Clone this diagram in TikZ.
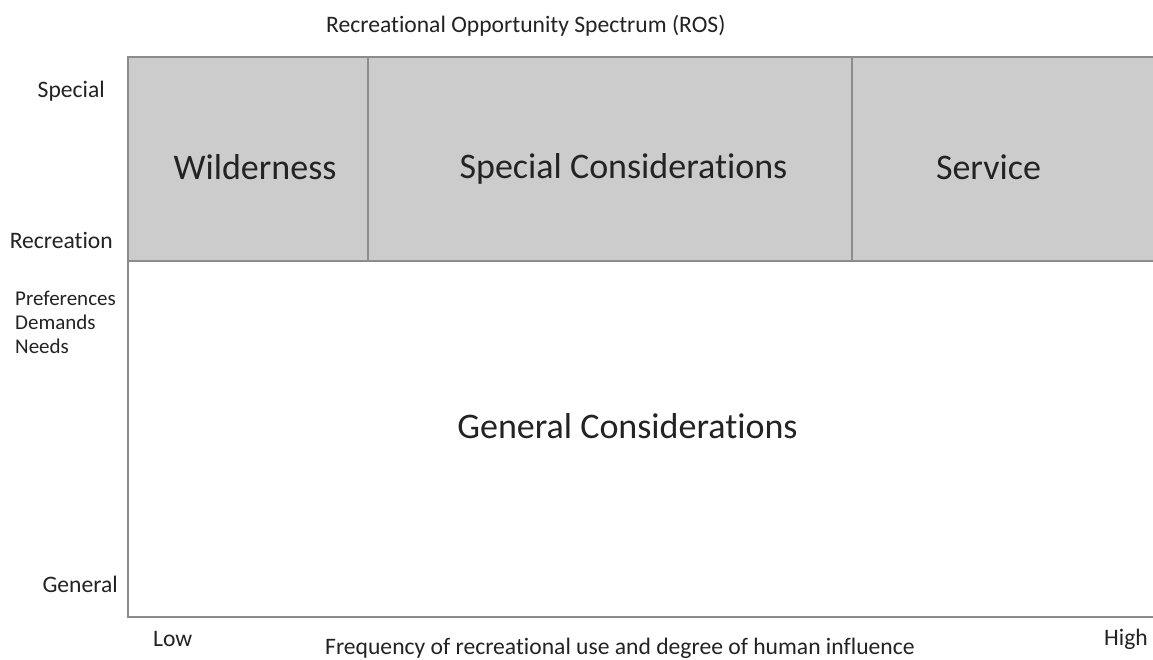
\documentclass[tikz,border=0pt]{standalone}
\usepackage{fontspec}
\setmainfont{Carlito}[Ligatures=NoCommon]
\definecolor{cellfill}{RGB}{204,204,204}
\definecolor{rule}{RGB}{140,140,140}
\definecolor{ink}{RGB}{35,35,35}
\begin{document}
\begin{tikzpicture}[x=1pt,y=-1pt,
  lbl/.style={inner sep=0pt,text=ink,font=\fontsize{23.6}{28}\selectfont},
  small/.style={inner sep=0pt,text=ink,font=\fontsize{21}{25}\selectfont},
  big/.style={inner sep=0pt,text=ink,font=\fontsize{36}{42}\selectfont},
  frame/.style={draw=rule,line width=1.6pt}]
\useasboundingbox[fill=white] (0,0) rectangle (1153,660);

% shaded band of special recreation classes
\fill[cellfill] (128,57) rectangle (1153,261);
\draw[frame] (1153,57) -- (128,57) -- (128,617) -- (1153,617);
\draw[frame] (128,261) -- (1153,261);
\draw[frame] (368,57) -- (368,261);
\draw[frame] (852,57) -- (852,261);

% title
\node[lbl,anchor=base west] (title) at (326,33) {Recreational Opportunity Spectrum (ROS)};

% vertical axis labels
\node[lbl,anchor=base east] (special) at (105,98) {Special};
\node[lbl,anchor=base east] (recreation) at (113,249) {Recreation};
\node[small,anchor=base west] (pref) at (15,305) {Preferences};
\node[small,anchor=base west] (dem) at (15,329) {Demands};
\node[small,anchor=base west] (need) at (15,353) {Needs};
\node[lbl,anchor=base east] (general) at (118,592) {General};

% horizontal axis labels
\node[lbl,anchor=base west] (low) at (153,646) {Low};
\node[lbl,anchor=base west] (freq) at (325,654) {Frequency of recreational use and degree of human influence};
\node[lbl,anchor=base east] (high) at (1148,645) {High};

% class names
\node[big,anchor=base] (wild) at (255,180) {Wilderness};
\node[big,anchor=base] (specons) at (623.5,179) {Special Considerations};
\node[big,anchor=base] (service) at (988.5,180) {Service};
\node[big,anchor=base] (gencons) at (627.5,438) {General Considerations};
\end{tikzpicture}
\end{document}
